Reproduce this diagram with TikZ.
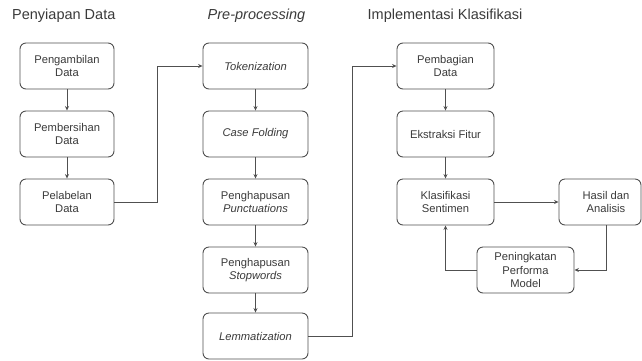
\documentclass[tikz,border=0pt]{standalone}
\usepackage{fontspec}
\setmainfont{Liberation Sans}
\usetikzlibrary{arrows.meta,calc}
\definecolor{linec}{HTML}{505050}
\definecolor{textc}{HTML}{3A3A3A}
\tikzset{
  stagebox/.style={draw=linec, line width=0.9pt, rounded corners=6pt, minimum height=46pt,
    align=center, text=textc, font=\fontsize{11.2}{13.5}\selectfont, inner sep=2pt},
  w1/.style={minimum width=94pt},
  w2/.style={minimum width=105pt},
  w3/.style={minimum width=97pt},
  heading/.style={text=textc, font=\fontsize{14.5}{17}\selectfont, inner sep=0pt},
  conn/.style={draw=linec, line width=0.9pt, -{Stealth[length=4.5pt,width=4pt]}},
}
\begin{document}
\begin{tikzpicture}[x=1pt,y=-1pt]
\useasboundingbox (0,0) rectangle (642,360);
% headings
\node[heading, anchor=west] (h1) at (12,16) {Penyiapan Data};
\node[heading] (h2) at (256.5,16) {\itshape Pre-processing};
\node[heading] (h3) at (445,16) {Implementasi Klasifikasi};
% column 1
\node[stagebox,w1] (ambil) at (67,66) {Pengambilan\\Data};
\node[stagebox,w1] (bersih) at (67,134) {Pembersihan\\Data};
\node[stagebox,w1] (label) at (67,202) {Pelabelan\\Data};
% column 2
\node[stagebox,w2] (tok) at (255.5,66) {\itshape Tokenization};
\node[stagebox,w2] (case) at (255.5,134) {\itshape Case Folding};
\node[stagebox,w2] (punct) at (255.5,202) {Penghapusan\\\itshape Punctuations};
\node[stagebox,w2] (stop) at (255.5,270) {Penghapusan\\\itshape Stopwords};
\node[stagebox,w2] (lemma) at (255.5,336) {\itshape Lemmatization};
% column 3
\node[stagebox,w3] (bagi) at (445.5,66) {Pembagian\\Data};
\node[stagebox,w3] (fitur) at (445.5,134) {Ekstraksi Fitur};
\node[stagebox,w3] (klas) at (445.5,202) {Klasifikasi\\Sentimen};
\node[stagebox,minimum width=82pt] (hasil) at (600,202) {\hspace*{12pt}Hasil dan\\\hspace*{12pt}Analisis};
\node[stagebox,w3] (tingkat) at (525.5,270) {Peningkatan\\Performa\\Model};
% connectors
\draw[conn] (ambil) -- (bersih);
\draw[conn] (bersih) -- (label);
\draw[conn] (label.east) -- ++(43,0) |- (tok.west);
\draw[conn] (tok) -- (case);
\draw[conn] (case) -- (punct);
\draw[conn] (punct) -- (stop);
\draw[conn] (stop) -- (lemma);
\draw[conn] (lemma.east) -- ++(44,0) |- (bagi.west);
\draw[conn] (bagi) -- (fitur);
\draw[conn] (fitur) -- (klas);
\draw[conn] (klas) -- (hasil);
\draw[conn] ([xshift=6pt]hasil.south) |- (tingkat.east);
\draw[conn] (tingkat.west) -| (klas.south);
\end{tikzpicture}
\end{document}
